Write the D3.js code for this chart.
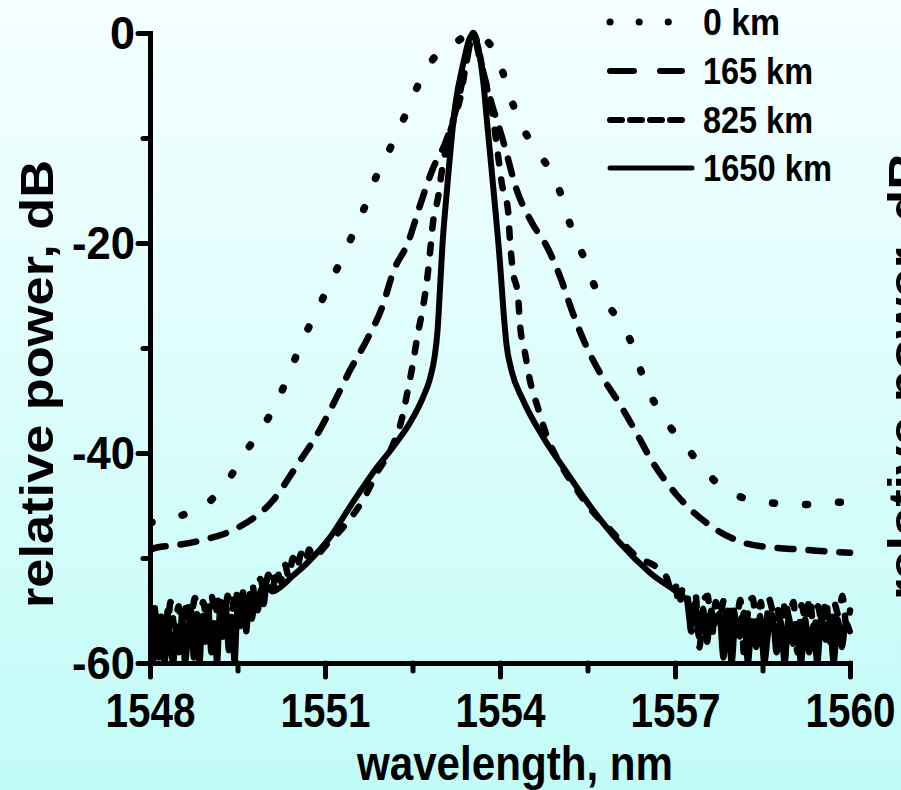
<!DOCTYPE html>
<html>
<head>
<meta charset="utf-8">
<script src="https://cdn.jsdelivr.net/npm/d3@7"></script>
<style>
  html, body { margin: 0; padding: 0; overflow: hidden; }
  svg { display: block; }
  text { font-family: "Liberation Sans", Arial, sans-serif; font-weight: bold; fill: #000; }
</style>
</head>
<body>
<svg id="chart" width="901" height="790"></svg>
<script>
// ---------------- data ----------------
const wavelengthTicks = [1548, 1551, 1554, 1557, 1560];
const wavelengthMinorTicks = [1549.5, 1552.5, 1555.5, 1558.5];
const powerTicks = [0, -20, -40, -60];
const powerMinorTicks = [-10, -30, -50];
const seriesNames = ["0 km", "165 km", "825 km", "1650 km"];
const xTitle = "wavelength, nm";
const yTitle = "relative power, dB";

// [wavelength nm, relative power dB]
const km0 = [
  [1548.00,-46.6],[1548.05,-46.6],[1548.51,-46.0],[1548.96,-44.9],[1549.35,-42.5],[1549.59,-40.3],
  [1549.90,-37.8],[1550.19,-35.0],[1550.40,-32.2],[1550.64,-29.0],[1550.90,-26.0],
  [1551.15,-23.1],[1551.41,-20.0],[1551.65,-17.0],[1551.87,-13.8],[1552.15,-10.6],
  [1552.41,-7.4],[1552.61,-4.8],[1552.85,-2.5],[1553.19,-1.1],[1553.49,-0.2],
  [1553.76,-0.7],[1554.02,-3.3],[1554.19,-6.3],[1554.39,-9.0],[1554.63,-11.2],
  [1554.86,-13.1],[1555.06,-15.6],[1555.23,-18.7],[1555.44,-21.4],[1555.63,-24.2],
  [1555.85,-25.9],[1556.06,-27.6],[1556.26,-29.6],[1556.43,-32.4],[1556.62,-34.9],
  [1556.86,-37.1],[1557.14,-39.0],[1557.43,-41.1],[1557.79,-43.2],[1558.25,-44.4],
  [1558.75,-44.8],[1559.28,-44.9],[1559.78,-44.7],[1560.00,-44.7]
];

const km165 = [
  [1548.00,-49.2],[1548.12,-49.0],[1548.43,-48.8],[1548.89,-48.3],[1549.51,-47.1],[1550.11,-44.5],
  [1550.54,-41.0],[1550.88,-38.1],[1551.19,-34.8],[1551.43,-32.1],[1551.72,-29.2],
  [1551.98,-26.1],[1552.18,-22.6],[1552.42,-20.0],[1552.63,-16.4],[1552.85,-12.9],
  [1553.06,-10.5],[1553.23,-7.6],[1553.40,-3.5],[1553.54,-0.2],[1553.66,-2.6],
  [1553.83,-6.2],[1554.05,-10.2],[1554.29,-15.0],[1554.55,-18.1],[1554.81,-20.4],
  [1555.03,-23.2],[1555.25,-26.7],[1555.51,-30.2],[1555.77,-32.9],[1556.06,-35.4],
  [1556.31,-37.8],[1556.62,-40.9],[1557.03,-44.0],[1557.55,-46.7],[1558.15,-48.5],
  [1558.66,-49.0],[1559.18,-49.2],[1559.66,-49.4],[1560.00,-49.5]
];

const km825 = [
  [1548.00,-56.5],[1548.07,-54.5],[1548.14,-58.0],[1548.21,-55.0],[1548.28,-59.0],[1548.35,-54.2],
  [1548.42,-56.5],[1548.49,-54.6],[1548.56,-58.5],[1548.63,-54.0],[1548.70,-55.8],[1548.77,-53.8],
  [1548.84,-57.2],[1548.91,-54.2],[1548.98,-56.0],[1549.05,-53.5],[1549.12,-55.5],[1549.19,-53.4],
  [1549.26,-57.8],[1549.33,-53.6],[1549.40,-55.0],[1549.47,-53.0],[1549.54,-56.2],[1549.61,-52.8],
  [1549.68,-54.0],[1549.75,-52.4],[1549.82,-54.8],[1549.89,-52.0],[1549.96,-53.2],[1550.03,-51.6],
  [1550.10,-53.0],[1550.17,-51.0],[1550.24,-52.2],[1550.31,-50.6],[1550.38,-51.8],[1550.45,-50.0],
  [1550.52,-51.0],[1550.59,-49.6],[1550.66,-50.4],[1550.73,-49.2],
  [1550.79,-49.9],[1551.05,-48.6],[1551.38,-46.6],[1551.65,-44.5],[1551.89,-41.9],[1552.15,-39.4],
  [1552.32,-36.7],[1552.42,-34.0],[1552.51,-31.4],[1552.58,-29.0],[1552.68,-26.1],[1552.75,-23.5],
  [1552.80,-20.9],[1552.85,-18.1],[1552.94,-15.6],[1553.01,-12.9],[1553.11,-10.2],[1553.31,-6.4],
  [1553.54,0.0],[1553.74,-4.5],[1553.86,-7.3],[1553.97,-11.8],[1554.03,-14.3],[1554.14,-17.0],
  [1554.17,-19.7],[1554.22,-22.6],[1554.31,-25.1],[1554.34,-27.6],[1554.43,-30.5],[1554.51,-33.0],
  [1554.65,-35.7],[1554.81,-38.5],[1555.03,-41.0],[1555.34,-43.7],[1555.59,-45.6],[1555.89,-47.3],
  [1556.11,-48.6],[1556.35,-49.9],[1556.69,-50.9],[1556.86,-51.9],
  [1556.93,-53.0],[1557.00,-52.4],[1557.07,-54.5],[1557.14,-52.8],[1557.21,-53.5],[1557.28,-57.0],
  [1557.35,-53.4],[1557.42,-58.5],[1557.49,-54.0],[1557.56,-53.6],[1557.63,-57.5],[1557.70,-54.2],
  [1557.77,-55.5],[1557.84,-54.0],[1557.91,-58.0],[1557.98,-54.3],[1558.05,-56.0],[1558.12,-54.0],
  [1558.19,-59.5],[1558.26,-54.6],[1558.33,-53.8],[1558.40,-56.5],[1558.47,-54.2],[1558.54,-58.5],
  [1558.61,-53.9],[1558.68,-55.0],[1558.75,-54.4],[1558.82,-57.6],[1558.89,-54.0],[1558.96,-55.8],
  [1559.03,-54.2],[1559.10,-59.0],[1559.17,-54.5],[1559.24,-56.0],[1559.31,-53.8],[1559.38,-57.0],
  [1559.45,-54.6],[1559.52,-56.2],[1559.59,-54.0],[1559.66,-58.0],[1559.73,-54.3],[1559.80,-55.4],
  [1559.87,-53.6],[1559.94,-56.5],[1560.00,-55.0]
];

const km1650 = [
  [1548.00,-57.0],[1548.05,-60.0],[1548.10,-55.5],[1548.15,-59.5],[1548.20,-56.0],[1548.25,-60.0],
  [1548.30,-55.0],[1548.35,-58.5],[1548.40,-60.0],[1548.45,-56.5],[1548.50,-59.0],[1548.55,-55.2],
  [1548.60,-60.0],[1548.65,-57.5],[1548.70,-54.8],[1548.75,-59.5],[1548.80,-56.0],[1548.85,-60.0],
  [1548.90,-55.5],[1548.95,-58.0],[1549.00,-54.6],[1549.05,-59.0],[1549.10,-56.2],[1549.15,-60.0],
  [1549.20,-55.0],[1549.25,-57.5],[1549.30,-54.5],[1549.35,-58.8],[1549.40,-55.6],[1549.45,-60.0],
  [1549.50,-54.8],[1549.55,-56.5],[1549.60,-54.0],[1549.65,-57.0],[1549.70,-54.2],[1549.75,-55.8],
  [1549.80,-53.6],[1549.85,-55.0],[1549.90,-53.0],[1549.95,-54.4],[1550.00,-52.6],[1550.10,-53.2],
  [1550.23,-52.8],[1550.45,-51.7],[1550.69,-50.5],[1551.09,-48.0],[1551.43,-45.1],[1551.82,-41.9],
  [1552.17,-39.4],[1552.46,-37.1],[1552.68,-34.7],[1552.80,-32.9],[1552.88,-30.8],[1552.93,-28.3],
  [1552.97,-24.5],[1553.01,-20.5],[1553.09,-15.0],[1553.23,-7.0],[1553.37,-2.9],[1553.52,-0.2],
  [1553.61,-1.0],[1553.71,-4.5],[1553.79,-9.2],[1553.91,-16.2],[1554.00,-21.9],[1554.06,-26.5],
  [1554.11,-29.6],[1554.20,-32.2],[1554.39,-34.9],[1554.74,-38.5],
  [1555.15,-41.9],[1555.59,-45.4],[1556.06,-48.6],[1556.57,-51.4],[1557.14,-53.7],
  [1557.20,-54.0],[1557.27,-56.5],[1557.34,-54.3],[1557.41,-57.5],[1557.48,-54.8],[1557.55,-58.0],
  [1557.62,-55.0],[1557.69,-56.2],[1557.76,-55.3],[1557.83,-59.5],[1557.90,-55.0],[1557.97,-60.0],
  [1558.04,-55.8],[1558.11,-57.5],[1558.18,-55.2],[1558.25,-60.0],[1558.32,-56.0],[1558.39,-58.5],
  [1558.46,-55.5],[1558.53,-60.0],[1558.60,-57.0],[1558.67,-55.4],[1558.74,-59.0],[1558.81,-56.0],
  [1558.88,-60.0],[1558.95,-55.6],[1559.02,-58.2],[1559.09,-56.5],[1559.16,-60.0],[1559.23,-55.8],
  [1559.30,-59.0],[1559.37,-56.4],[1559.44,-60.0],[1559.51,-55.5],[1559.58,-57.8],[1559.65,-56.0],
  [1559.72,-60.0],[1559.79,-55.8],[1559.86,-58.5],[1559.93,-56.2],[1560.00,-57.0]
];

const seriesData = [km0, km165, km825, km1650];

// ---------------- drawing ----------------
const W = 901, H = 790;
const svg = d3.select("#chart");

const defs = svg.append("defs");
const grad = defs.append("linearGradient").attr("id", "bg")
  .attr("x1", 0).attr("y1", 0).attr("x2", 0).attr("y2", 1);
grad.append("stop").attr("offset", "0%").attr("stop-color", "#f5ffff");
grad.append("stop").attr("offset", "100%").attr("stop-color", "#c2fbf7");
svg.append("rect").attr("width", W).attr("height", H).attr("fill", "url(#bg)");

const x = d3.scaleLinear().domain([1548, 1560]).range([150, 850]);
const y = d3.scaleLinear().domain([-60, 0]).range([663, 33]);

defs.append("clipPath").attr("id", "plotclip")
  .append("rect").attr("x", 148).attr("y", 28).attr("width", 706).attr("height", 637);

const styles = [
  { dash: "2,31", width: 7.5 },
  { dash: "16,15", width: 6.5 },
  { dash: "9,16", width: 6.5 },
  { dash: null, width: 6 }
];

const line = d3.line().x(d => x(d[0])).y(d => y(d[1])).curve(d3.curveMonotoneX);

const plot = svg.append("g").attr("clip-path", "url(#plotclip)");
seriesData.forEach((s, i) => {
  plot.append("path")
    .datum(s)
    .attr("d", line)
    .attr("fill", "none")
    .attr("stroke", "#000")
    .attr("stroke-width", styles[i].width)
    .attr("stroke-linecap", "round")
    .attr("stroke-linejoin", "round")
    .attr("stroke-dasharray", styles[i].dash);
});

// axes
function styleAxis(g) {
  g.select(".domain").attr("stroke", "#000").attr("stroke-width", 5).attr("stroke-linecap", "square");
  g.selectAll(".tick line").attr("stroke", "#000").attr("stroke-width", 5).attr("stroke-linecap", "round");
}

const xAxis = svg.append("g").attr("transform", "translate(0,663)")
  .call(d3.axisBottom(x).tickValues(wavelengthTicks).tickSize(14).tickSizeOuter(0).tickFormat(d3.format("d")));
svg.append("g").attr("transform", "translate(0,663)")
  .call(d3.axisBottom(x).tickValues(wavelengthMinorTicks).tickSize(8).tickSizeOuter(0).tickFormat(""))
  .call(g => { g.select(".domain").remove(); styleAxis(g); });
styleAxis(xAxis);
xAxis.selectAll(".tick text")
  .attr("y", 0).attr("dy", 0)
  .attr("transform", "translate(0,64)")
  .attr("font-size", 48)
  .attr("textLength", 90).attr("lengthAdjust", "spacingAndGlyphs")
  .style("font-family", "'Liberation Sans', Arial, sans-serif").style("font-weight", "bold");

const yAxis = svg.append("g").attr("transform", "translate(150,0)")
  .call(d3.axisLeft(y).tickValues(powerTicks).tickSize(12).tickSizeOuter(0).tickFormat(d3.format("d")));
svg.append("g").attr("transform", "translate(150,0)")
  .call(d3.axisLeft(y).tickValues(powerMinorTicks).tickSize(7).tickSizeOuter(0).tickFormat(""))
  .call(g => { g.select(".domain").remove(); styleAxis(g); });
styleAxis(yAxis);
yAxis.selectAll(".tick text")
  .attr("x", -15).attr("dy", "0.33em")
  .attr("font-size", 46)
  .attr("textLength", d => d === 0 ? 25 : 63).attr("lengthAdjust", "spacingAndGlyphs")
  .style("font-family", "'Liberation Sans', Arial, sans-serif").style("font-weight", "bold")
  .text(d => d === 0 ? "0" : "-" + Math.abs(d));

// axis titles
svg.append("text")
  .attr("x", 357).attr("y", 780)
  .attr("font-size", 48)
  .attr("textLength", 316).attr("lengthAdjust", "spacingAndGlyphs")
  .text(xTitle);

svg.append("text")
  .attr("transform", "translate(53,608) rotate(-90)")
  .attr("font-size", 47)
  .attr("textLength", 448).attr("lengthAdjust", "spacingAndGlyphs")
  .text(yTitle);

// neighbouring panel's label, cut off at the right edge
svg.append("text")
  .attr("transform", "translate(921,600) rotate(-90)")
  .attr("font-size", 47)
  .attr("textLength", 448).attr("lengthAdjust", "spacingAndGlyphs")
  .text(yTitle);

// legend
const legendRows = [22, 71, 120, 168];
const legendLens = [77, 110, 110, 129];
const legendLineDash = ["0.1,29", "24,26", "12,8", null];
const legendWidths = [7, 6, 6, 5];
const legend = svg.append("g");
seriesNames.forEach((name, i) => {
  legend.append("line")
    .attr("x1", 610).attr("x2", i === 3 ? 692 : (i === 1 ? 682 : 690))
    .attr("y1", legendRows[i]).attr("y2", legendRows[i])
    .attr("stroke", "#000")
    .attr("stroke-width", legendWidths[i])
    .attr("stroke-linecap", "round")
    .attr("stroke-dasharray", legendLineDash[i]);
  legend.append("text")
    .attr("x", 703).attr("y", legendRows[i] + 13)
    .attr("font-size", 37)
    .attr("textLength", legendLens[i]).attr("lengthAdjust", "spacingAndGlyphs")
    .text(name);
});
</script>
</body>
</html>
